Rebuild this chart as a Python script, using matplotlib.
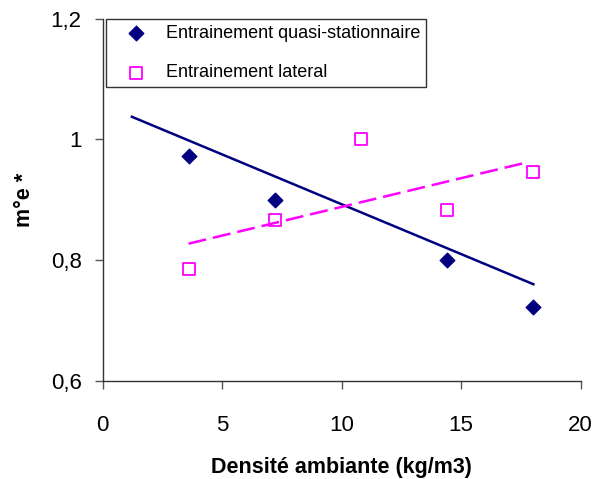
import matplotlib
matplotlib.use("Agg")
import matplotlib.pyplot as plt

plt.rcParams['font.family'] = ['Liberation Sans', 'DejaVu Sans']

# data
x_quasi = [3.6, 7.2, 14.4, 18.0]
y_quasi = [0.972, 0.900, 0.800, 0.722]
x_lat = [3.6, 7.2, 10.8, 14.4, 18.0]
y_lat = [0.785, 0.866, 1.001, 0.882, 0.946]
trend_quasi_x = [1.18, 18.07]
trend_quasi_y = [1.038, 0.759]
trend_lat_x = [3.6, 17.68]
trend_lat_y = [0.827, 0.961]
x_ticks = [0, 5, 10, 15, 20]
x_ticklabels = ["0", "5", "10", "15", "20"]
y_ticks = [0.6, 0.8, 1.0, 1.2]
y_ticklabels = ["0,6", "0,8", "1", "1,2"]

fig = plt.figure(figsize=(5.97, 4.79), dpi=100)
ax = fig.add_axes([102.5/597, 1 - 380.7/479, (580.7-102.5)/597, (380.7-18.5)/479])

navy = '#000080'
mag = '#FF00FF'
ax.plot(trend_quasi_x, trend_quasi_y, color=navy, lw=1.8, solid_capstyle='butt', zorder=2)
ax.plot(trend_lat_x, trend_lat_y, color=mag, lw=1.8, dashes=(7.2, 2.8), zorder=2)
ax.scatter(x_quasi, y_quasi, marker='D', s=55, color=navy, zorder=3,
           label='Entrainement quasi-stationnaire')
ax.scatter(x_lat, y_lat, marker='s', s=75, facecolors='none', edgecolors=mag,
           linewidths=1.3, zorder=3, label='Entrainement lateral')

ax.set_xlim(0, 20)
ax.set_ylim(0.6, 1.2)
ax.set_xticks(x_ticks)
ax.set_xticklabels(x_ticklabels)
ax.set_yticks(y_ticks)
ax.set_yticklabels(y_ticklabels)
for s in ['top', 'right']:
    ax.spines[s].set_visible(False)
for s in ['left', 'bottom']:
    ax.spines[s].set_color('#333333')
    ax.spines[s].set_linewidth(1.0)
ax.tick_params(axis='both', direction='out', length=6, width=1, color='#555555',
               labelsize=16)
ax.tick_params(axis='y', pad=9)
ax.tick_params(axis='x', pad=19)

ax.set_xlabel('Densité ambiante (kg/m3)', fontsize=15.5, fontweight='bold', labelpad=15)
ax.set_ylabel('m°e *', fontsize=15.5, fontweight='bold', labelpad=11)

leg = ax.legend(loc='upper left', bbox_to_anchor=((105.7-102.5)/478.2, 1 - (19.3-18.5)/362.2),
                fontsize=13, frameon=True, fancybox=False, borderpad=0.3,
                labelspacing=1.25, handlelength=2.74, handletextpad=0.31,
                borderaxespad=0, scatterpoints=1)
leg.get_frame().set_edgecolor('black')
leg.get_frame().set_linewidth(1.0)

fig.savefig('out.png', dpi=100)
